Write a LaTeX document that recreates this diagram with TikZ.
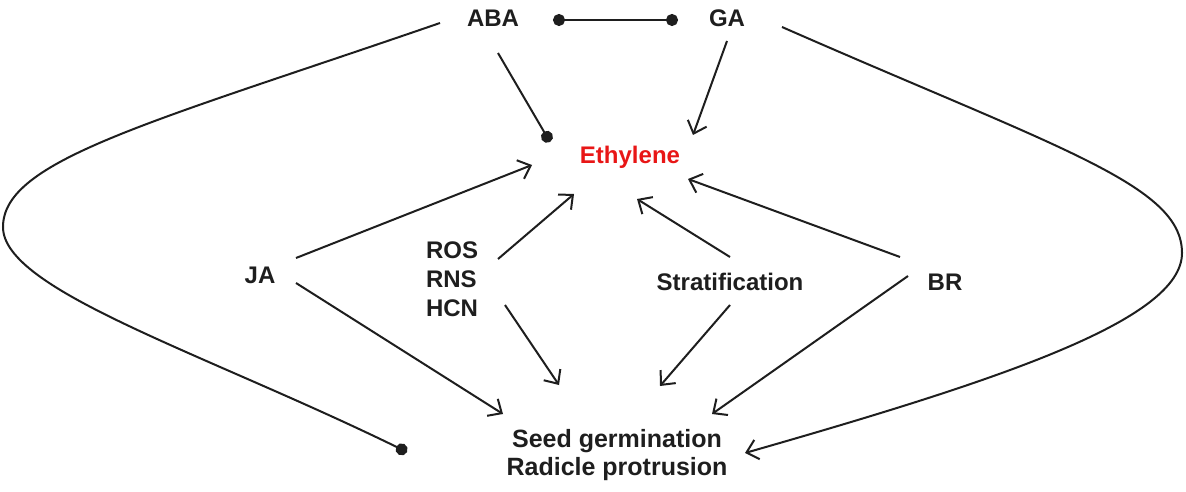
\documentclass[tikz,border=0pt]{standalone}
\usepackage{fontspec}
\setmainfont{Liberation Sans}
\usetikzlibrary{arrows.meta,calc}
\definecolor{txt}{RGB}{30,30,30}
\definecolor{ethred}{RGB}{232,22,22}
\begin{document}
\begin{tikzpicture}[x=1pt,y=-1pt,
  lbl/.style={font=\fontsize{24}{29}\selectfont\bfseries, text=txt, align=left, inner sep=0pt},
  conn/.style={line width=2pt, draw=txt},
  arr/.style={conn, -{Straight Barb[length=11pt,width=20pt,line width=2pt]}},
  inh/.style={conn, -{Circle[length=12pt]}},
  inh2/.style={conn, {Circle[length=12pt]}-{Circle[length=12pt]}}]
\useasboundingbox (0,0) rectangle (1186,492);
\node[lbl] (ABA) at (493,18) {ABA};
\node[lbl] (GA) at (727,18) {GA};
\node[lbl, text=ethred] (Eth) at (630,157) {Ethylene};
\node[lbl] (JA) at (260,275) {JA};
\node[lbl] (ROS) at (452,279) {ROS\\RNS\\HCN};
\node[lbl] (Strat) at (730,282) {Stratification};
\node[lbl] (BR) at (945,282) {BR};
\node[lbl, align=center, font=\fontsize{25}{28}\selectfont\bfseries] (Seed) at (617,455) {Seed germination\\Radicle protrusion};
\coordinate (lfar) at (3,227);
\coordinate (rfar) at (1182,253);
% ABA -- GA
\draw[inh2] ($(ABA)+(60,2)$) -- ($(GA)+(-49,2)$);
% to ethylene
\draw[inh] ($(ABA)+(5,35)$) -- ($(Eth)+(-80,-15)$);
\draw[arr] ($(GA)+(0,23)$) -- ($(Eth)+(63,-22)$);
\draw[arr] ($(JA)+(36,-17)$) -- ($(Eth)+(-98,8)$);
\draw[arr] ($(ROS)+(46,-20)$) -- ($(Eth)+(-56,37)$);
\draw[arr] ($(Strat)+(0,-25)$) -- ($(Eth)+(7,42)$);
\draw[arr] ($(BR)+(-45,-25)$) -- ($(Eth)+(58,22)$);
% to seed germination
\draw[arr] ($(JA)+(36,8)$) -- ($(Seed)+(-114,-41)$);
\draw[arr] ($(ROS)+(53,26)$) -- ($(Seed)+(-58,-70)$);
\draw[arr] ($(Strat)+(0,23)$) -- ($(Seed)+(43,-69)$);
\draw[arr] ($(BR)+(-37,-6)$) -- ($(Seed)+(95,-41)$);
% long curves
\draw[inh] ($(ABA)+(-53,5)$) .. controls (150,123) and (3,160) .. (lfar)
  .. controls (3,290) and (202,352) .. ($(Seed)+(-210,-3)$);
\draw[arr] ($(GA)+(55,9)$) .. controls (1060,149) and (1182,185) .. (rfar)
  .. controls (1182,320) and (1000,380) .. ($(Seed)+(128,-2)$);
\end{tikzpicture}
\end{document}
